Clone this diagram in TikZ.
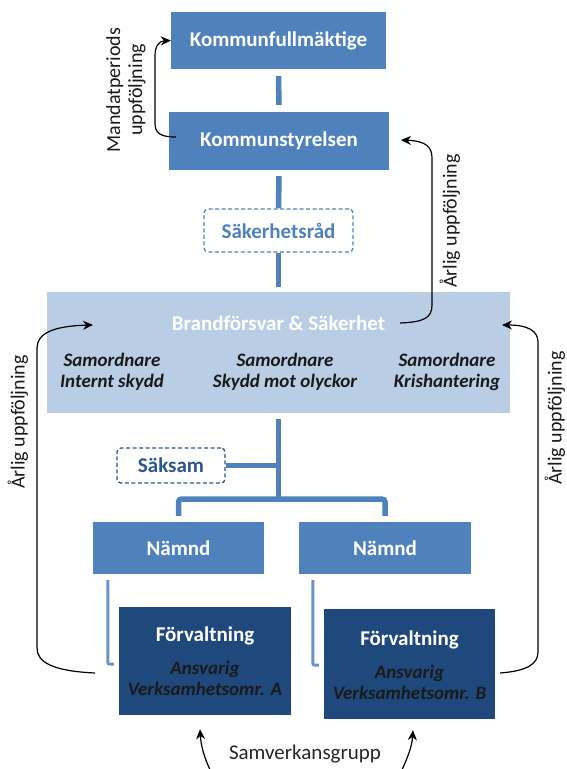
\documentclass[tikz,border=0pt]{standalone}
\usepackage{fontspec}
\setmainfont{Carlito}
\usetikzlibrary{arrows.meta,calc}
\definecolor{midblue}{HTML}{4F81BD}
\definecolor{darkblue}{HTML}{1F497D}
\definecolor{paleblue}{HTML}{B9CDE5}
\definecolor{sakblue}{HTML}{2C5590}
\definecolor{inktext}{HTML}{1A1A1A}
\tikzset{
  mainbox/.style={fill=midblue, text=white, font=\fontsize{21}{24}\selectfont\bfseries, inner sep=0pt},
  darkbox/.style={fill=darkblue, inner sep=0pt},
  palebox/.style={fill=paleblue, inner sep=0pt},
  dashbox/.style={draw=#1, text=#1, dashed, dash pattern=on 4pt off 2.5pt, line width=1.3pt,
    rounded corners=4pt, font=\fontsize{21}{24}\selectfont\bfseries, inner sep=0pt},
  trunk/.style={draw=midblue, line width=5.5pt},
  subline/.style={draw=midblue!85!white, line width=3pt, rounded corners=2pt},
  loop/.style={draw=black, line width=1.2pt, -{Stealth[length=10pt,width=9pt]}},
  subtitle/.style={text=white, font=\fontsize{21}{24}\selectfont\bfseries, inner sep=0pt},
  coord/.style={text=inktext, font=\fontsize{19}{21}\selectfont\bfseries\itshape, align=center, inner sep=0pt},
  sidelabel/.style={text=inktext, font=\fontsize{20}{22}\selectfont, inner sep=0pt},
}
\begin{document}
\begin{tikzpicture}[x=1pt,y=-1pt]
\useasboundingbox (0,0) rectangle (567,769);

% governing bodies
\node[mainbox, minimum width=215pt, minimum height=57pt] (kf) at (278.5,40.5) {Kommunfullmäktige};
\node[mainbox, minimum width=220pt, minimum height=58pt] (ks) at (279,141) {Kommunstyrelsen};
\node[dashbox=midblue, minimum width=149pt, minimum height=43pt] (sr) at (278.5,230.5) {Säkerhetsråd};

% fire and safety department
\node[palebox, minimum width=463pt, minimum height=121pt] (bf) at (278.5,352.5) {};
\node[subtitle] (bft) at (278.5,323) {Brandförsvar \& Säkerhet};
\node[coord] (c1) at (112,371.5) {Samordnare\\Internt skydd};
\node[coord] (c2) at (285,371.5) {Samordnare\\Skydd mot olyckor};
\node[coord] (c3) at (447,371.5) {Samordnare\\Krishantering};

% committees and administrations
\node[dashbox=sakblue, minimum width=108pt, minimum height=35pt] (sk) at (171,465.5) {Säksam};
\node[mainbox, minimum width=171pt, minimum height=52pt] (n1) at (178.5,548) {Nämnd};
\node[mainbox, minimum width=172pt, minimum height=52pt] (n2) at (385,548) {Nämnd};
\node[darkbox, minimum width=172pt, minimum height=108pt] (f1) at (205,661) {};
\node[darkbox, minimum width=171pt, minimum height=110pt] (f2) at (409.5,664) {};
\node[subtitle] (f1t) at (205,636) {Förvaltning};
\node[subtitle] (f2t) at (409.5,640) {Förvaltning};
\node[coord] (f1s) at (205,678) {Ansvarig\\Verksamhetsomr. A};
\node[coord] (f2s) at (409.5,682) {Ansvarig\\Verksamhetsomr. B};

% organisational lines
\coordinate (bj) at (278.5,499);
\draw[trunk] ($(kf.south)+(0,7)$) -- ($(ks.north)+(0,-7)$);
\draw[trunk] ($(ks.south)+(0,6)$) -- (sr.north);
\draw[trunk] (sr.south) -- ($(bf.north)+(0,-5)$);
\draw[trunk] ($(bf.south)+(0,6)$) -- (bj);
\draw[trunk, line width=4.5pt] (sk.east) -- (sk.east -| bj);
\draw[trunk, rounded corners=3pt] ($(n1.north)+(0,-6)$) |- (bj) -| ($(n2.north)+(0,-6)$);
\draw[subline] ($(n1.south west)+(15,6)$) -- ++(0,84) -- ++(6,0);
\draw[subline] ($(n2.south west)+(14,6)$) -- ++(0,85) -- ++(6,0);

% follow-up arrows
\coordinate (mp0) at (176,137);
\draw[loop] (mp0) .. controls (160,137) and (155,133) .. (155,123)
  -- (155,56) .. controls (155,46) and (159,41) .. (kf.west);
\node[sidelabel, rotate=90, align=center] (mpl) at (126,90) {Mandatperiods\\uppföljning};

\coordinate (ar0) at (400,323);
\coordinate (ar1) at (401,140);
\draw[loop] (ar0) .. controls (424,322) and (432,318) .. (432,305)
  -- (432,158) .. controls (432,147) and (426,141) .. (ar1);
\node[sidelabel, rotate=90] (arl) at (450,221) {Årlig uppföljning};

\coordinate (la0) at (95,673);
\coordinate (la1) at (93,325);
\draw[loop] (la0) .. controls (52,671) and (37,662) .. (37,648)
  -- (37,348) .. controls (37,334) and (52,326) .. (la1);
\node[sidelabel, rotate=90] (lal) at (18,422) {Årlig uppföljning};

\coordinate (ra0) at (500,673);
\coordinate (ra1) at (502,325);
\draw[loop] (ra0) .. controls (527,671) and (538,664) .. (538,652)
  -- (538,342) .. controls (538,331) and (528,325) .. (ra1);
\node[sidelabel, rotate=90] (ral) at (555,418) {Årlig uppföljning};

% cooperation group
\node[sidelabel, text=black!85, font=\fontsize{21}{23}\selectfont] (sv) at (305,754) {Samverkansgrupp};
\coordinate (sv1) at (211,772);
\coordinate (sv2) at (401,772);
\draw[loop] (sv1) .. controls (204,757) and (201,746) .. ($(f1.south)+(-5,14)$);
\draw[loop] (sv2) .. controls (408,757) and (412,746) .. ($(f2.south)+(3.5,11)$);
\end{tikzpicture}
\end{document}
